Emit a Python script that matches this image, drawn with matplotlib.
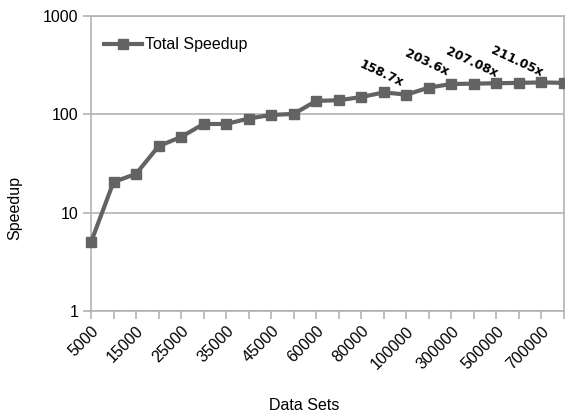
import numpy as np
import matplotlib
matplotlib.use('Agg')
import matplotlib.pyplot as plt
from matplotlib.ticker import FixedLocator, NullLocator

# Total speedup by data set size (log scale)
data_sets = ['5000', '10000', '15000', '20000', '25000', '30000', '35000', '40000',
             '45000', '50000', '60000', '70000', '80000', '90000', '100000', '200000',
             '300000', '400000', '500000', '600000', '700000', '800000']
speedup = [5.0, 20.5, 24.8, 47.4, 58.9, 79.8, 79.8, 90.6, 98.6, 101, 137, 139,
           150, 167, 158.7, 187, 203.6, 205, 207.08, 209, 211.05, 209]

# data labels shown on the chart
label_idx = [14, 16, 18, 20]
label_text = ['158.7x', '203.6x', '207.08x', '211.05x']

y_ticks = [1, 10, 100, 1000]

LINE = '#636363'
GRID = '#b3b3b3'

plt.rcParams['font.family'] = ['Liberation Sans', 'DejaVu Sans']

fig = plt.figure(figsize=(5.65, 4.12), dpi=100)
ax = fig.add_axes([91 / 565, 1 - 311 / 412, 473 / 565, 295 / 412])

x = np.arange(len(data_sets))
ax.plot(x, speedup, color=LINE, lw=3, marker='s', ms=7, mfc=LINE, mec=LINE,
        label='Total Speedup', zorder=3, clip_on=False)

for i, t in zip(label_idx, label_text):
    ax.annotate(t, (x[i], speedup[i]), xytext=(-25, 21), textcoords='offset pixels',
                ha='center', va='center', rotation=-25, fontsize=8.8, fontweight='bold',
                family='DejaVu Sans', color='black')

ax.set_yscale('log')
ax.set_ylim(1, 1000)
ax.yaxis.set_major_locator(FixedLocator(y_ticks))
ax.yaxis.set_minor_locator(NullLocator())
ax.set_yticklabels([str(v) for v in y_ticks])
ax.grid(axis='y', color=GRID, lw=1.2)
ax.set_axisbelow(True)

ax.set_xlim(0, len(data_sets) - 1)
ax.set_xticks(x)
ax.set_xticklabels([d if i % 2 == 0 else '' for i, d in enumerate(data_sets)],
                   rotation=45, ha='right', rotation_mode='anchor')

for s in ax.spines.values():
    s.set_color(GRID)
    s.set_linewidth(1.2)
ax.tick_params(axis='both', length=6, width=1.2, color=GRID, labelsize=11.5,
               labelcolor='black', pad=3)

ax.legend(loc='center left', bbox_to_anchor=(0.027, 0.902), frameon=False,
          borderpad=0, borderaxespad=0, handlelength=2.4, handletextpad=0.2,
          fontsize=11.5)

fig.text(0.027, 1 - 208 / 412, 'Speedup', rotation=90, ha='center', va='center',
         fontsize=11.5)
fig.text(304 / 565, 1 - 405 / 412, 'Data Sets', ha='center', va='center',
         fontsize=11.5)

fig.savefig('out.png', dpi=100)
